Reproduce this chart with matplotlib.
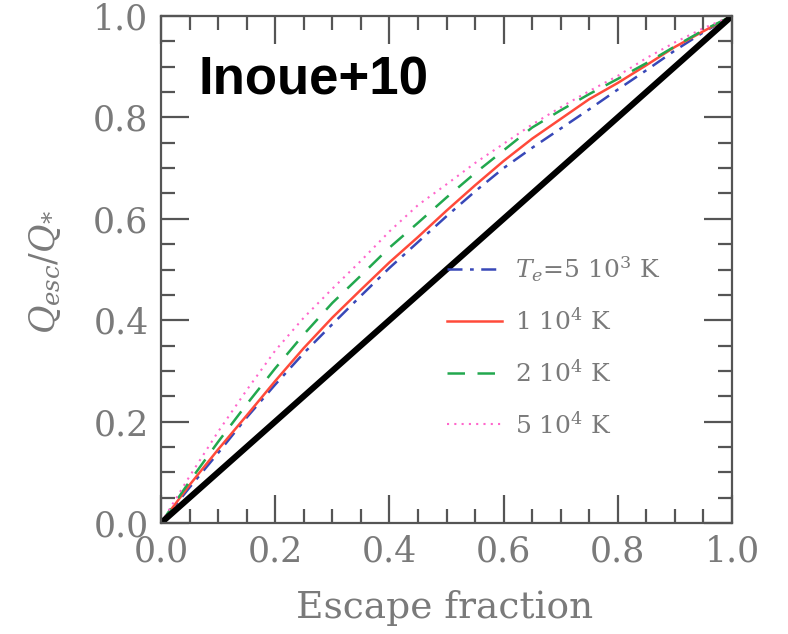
import matplotlib
matplotlib.use('Agg')
import matplotlib.pyplot as plt
from matplotlib.ticker import MultipleLocator

plt.rcParams['mathtext.fontset'] = 'dejavuserif'
plt.rcParams['font.family'] = ['DejaVu Serif']

# ---- data ----
fesc = [0.0, 0.05, 0.10, 0.15, 0.20, 0.25, 0.30, 0.35, 0.40, 0.45, 0.50,
        0.55, 0.60, 0.65, 0.70, 0.75, 0.80, 0.85, 0.90, 0.95, 1.0]
q_5e3 = [0.0, 0.070, 0.138, 0.208, 0.273, 0.335, 0.392, 0.448, 0.503, 0.554, 0.605,
         0.654, 0.700, 0.740, 0.778, 0.816, 0.855, 0.893, 0.932, 0.968, 1.0]
q_1e4 = [0.0, 0.075, 0.145, 0.212, 0.280, 0.345, 0.405, 0.460, 0.514, 0.564, 0.616,
         0.666, 0.714, 0.758, 0.797, 0.836, 0.868, 0.903, 0.939, 0.970, 1.0]
q_2e4 = [0.0, 0.082, 0.160, 0.234, 0.305, 0.372, 0.434, 0.488, 0.543, 0.592, 0.642,
         0.690, 0.735, 0.780, 0.814, 0.846, 0.876, 0.907, 0.940, 0.972, 1.0]
q_5e4 = [0.0, 0.092, 0.180, 0.262, 0.340, 0.405, 0.462, 0.517, 0.575, 0.627, 0.668,
         0.710, 0.748, 0.786, 0.820, 0.852, 0.882, 0.917, 0.948, 0.976, 1.0]
diag = [0.0, 1.0]

labels = [r'$T_e$=5 10$^3$ K', r'1 10$^4$ K', r'2 10$^4$ K', r'5 10$^4$ K']
xticks = [0.0, 0.2, 0.4, 0.6, 0.8, 1.0]
yticks = [0.0, 0.2, 0.4, 0.6, 0.8, 1.0]

# ---- figure ----
fig = plt.figure(figsize=(7.88, 6.34), dpi=100)
ax = fig.add_axes([161/788, 1 - 523/634, (732-161)/788, (523-16)/634])

ax.plot(fesc, q_5e3, color='#3848b8', lw=1.8, dashes=(6, 3, 1.5, 3), label=labels[0])
ax.plot(fesc, q_1e4, color='#ff4a3a', lw=1.8, ls='-', label=labels[1])
ax.plot(fesc, q_2e4, color='#22a84e', lw=1.8, dashes=(7, 5), label=labels[2])
ax.plot(fesc, q_5e4, color='#ff66cc', lw=1.5, dashes=(1, 2.5), label=labels[3])
ax.plot(diag, diag, color='black', lw=4.4, solid_capstyle='butt')

ax.set_xlim(0, 1)
ax.set_ylim(0, 1)

spine_c = '#555555'
for s in ax.spines.values():
    s.set_color(spine_c)
    s.set_linewidth(1.6)

ax.set_xticks(xticks)
ax.set_yticks(yticks)
ax.set_xticklabels([f'{v:.1f}' for v in xticks])
ax.set_yticklabels([f'{v:.1f}' for v in yticks])
ax.xaxis.set_minor_locator(MultipleLocator(0.05))
ax.yaxis.set_minor_locator(MultipleLocator(0.05))
ax.tick_params(which='both', direction='in', top=True, right=True, color=spine_c, width=1.6)
ax.tick_params(which='major', length=20)
ax.tick_params(which='minor', length=10)
ax.tick_params(axis='both', which='major', labelsize=25, labelcolor='#7a7a7a')
ax.tick_params(axis='x', pad=8)
ax.tick_params(axis='y', pad=9)

fig.text(445/788, 1 - 608/634, 'Escape fraction', ha='center', va='center',
         fontsize=27, color='#7a7a7a')
fig.text(45/788, 1 - 272/634, r'$Q_{esc}/Q_{*}$', ha='center', va='center',
         rotation=90, fontsize=25, color='#7a7a7a')

ax.text(0.065, 0.845, 'Inoue+10', transform=ax.transAxes, fontsize=38,
        fontweight='bold', family='Liberation Sans', color='black',
        ha='left', va='baseline')

leg = ax.legend(loc='upper left', bbox_to_anchor=((447-161)/571, (523-254)/507),
                frameon=False, fontsize=18, handlelength=2.2, handletextpad=0.52,
                labelspacing=1.0, borderpad=0, borderaxespad=0)
for t in leg.get_texts():
    t.set_color('#7a7a7a')

fig.savefig('out.png', dpi=100)
